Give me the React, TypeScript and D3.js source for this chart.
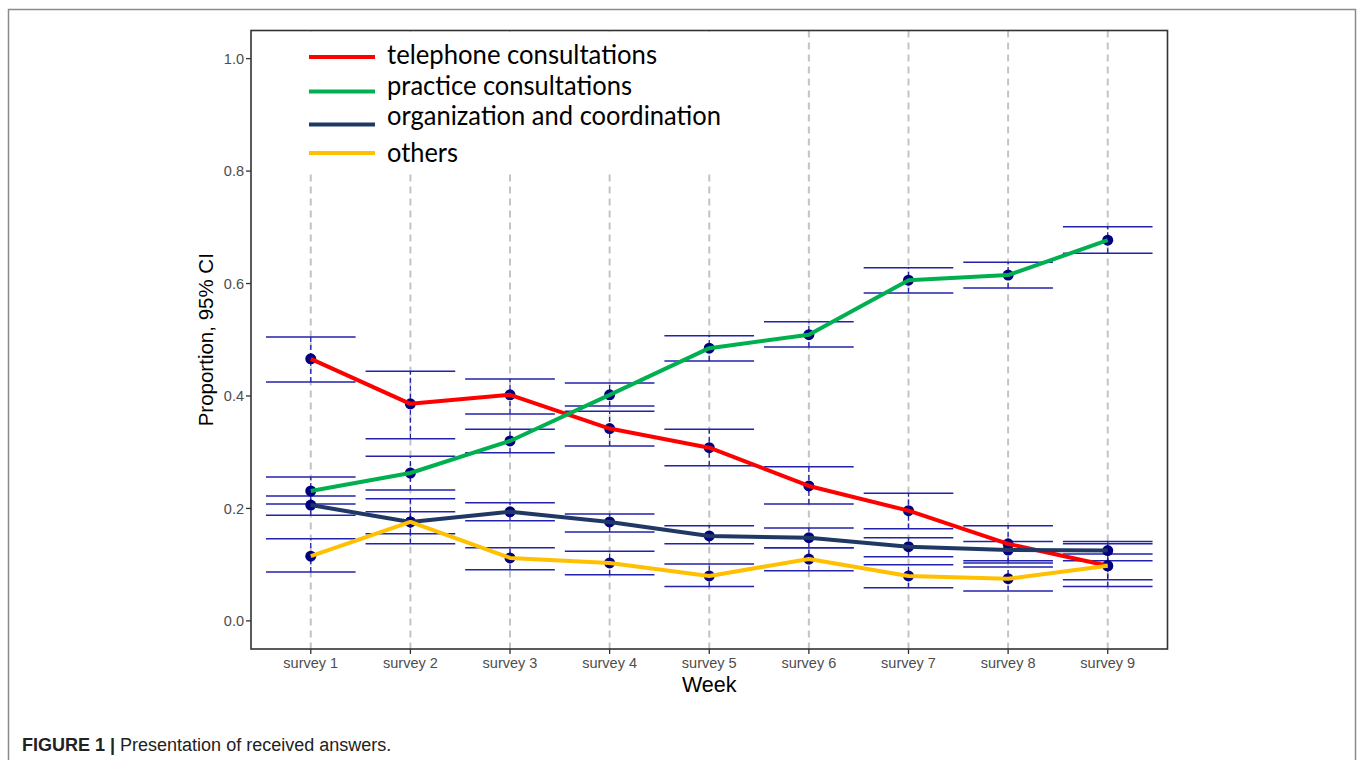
import React from "react";
import * as d3 from "d3";

const surveys = ["survey 1", "survey 2", "survey 3", "survey 4", "survey 5", "survey 6", "survey 7", "survey 8", "survey 9"];
const yTicks = [0.0, 0.2, 0.4, 0.6, 0.8, 1.0];

const seriesNames = ["telephone consultations", "practice consultations", "organization and coordination", "others"];
const seriesColors = ["#ff0000", "#00b050", "#203864", "#ffc000"];

const telephoneEst = [0.466, 0.386, 0.402, 0.342, 0.308, 0.240, 0.196, 0.137, 0.098];
const telephoneLo = [0.425, 0.324, 0.368, 0.311, 0.276, 0.208, 0.164, 0.107, 0.073];
const telephoneHi = [0.505, 0.444, 0.430, 0.373, 0.341, 0.274, 0.227, 0.169, 0.137];

const practiceEst = [0.231, 0.263, 0.320, 0.402, 0.485, 0.509, 0.606, 0.615, 0.677];
const practiceLo = [0.208, 0.233, 0.299, 0.382, 0.462, 0.487, 0.583, 0.592, 0.654];
const practiceHi = [0.256, 0.293, 0.341, 0.423, 0.507, 0.532, 0.628, 0.638, 0.701];

const organizationEst = [0.206, 0.176, 0.194, 0.176, 0.151, 0.148, 0.132, 0.126, 0.125];
const organizationLo = [0.188, 0.155, 0.178, 0.158, 0.137, 0.130, 0.114, 0.103, 0.107];
const organizationHi = [0.222, 0.194, 0.210, 0.190, 0.169, 0.165, 0.148, 0.141, 0.141];

const othersEst = [0.115, 0.176, 0.112, 0.103, 0.080, 0.110, 0.080, 0.075, 0.098];
const othersLo = [0.087, 0.137, 0.091, 0.082, 0.061, 0.089, 0.059, 0.053, 0.061];
const othersHi = [0.146, 0.217, 0.130, 0.124, 0.101, 0.130, 0.100, 0.096, 0.119];

const estimates = [telephoneEst, practiceEst, organizationEst, othersEst];
const lowers = [telephoneLo, practiceLo, organizationLo, othersLo];
const uppers = [telephoneHi, practiceHi, organizationHi, othersHi];

export default function App() {
  const W = 1358, H = 760;
  const pL = 251, pR = 1167.5, pT = 30.5, pB = 649;
  const x = d3.scalePoint<string>().domain(surveys).range([pL, pR]).padding(0.6);
  const y = d3.scaleLinear().domain([-0.05, 1.05]).range([pB, pT]);
  const step = x.step();
  const half = step * 0.45;
  const line = d3.line<number>().x((_, i) => x(surveys[i])!).y((v) => y(v));

  const legendLineY = [57, 91.5, 124.5, 153];
  const legendTextY = [64, 95, 125, 162];
  const legendWidths = [270, 245, 334, 71];

  const ebColor = "#2222aa";
  const axisFont = "'Liberation Sans', Arial, sans-serif";

  return (
    <svg width={W} height={H} style={{ position: "absolute", left: 0, top: 0 }}>
      <rect x={0} y={0} width={W} height={H} fill="#fff" />
      <rect x={8.5} y={9.5} width={1347} height={H + 20} fill="none" stroke="#8a8a8a" strokeWidth={1.5} />

      {/* grey dashed guide lines */}
      {surveys.map((s) => (
        <line key={"g" + s} x1={x(s)} x2={x(s)} y1={pT} y2={pB} stroke="#c4c4c4" strokeWidth={2} strokeDasharray="7,5" />
      ))}

      {/* error bars */}
      {estimates.map((est, k) =>
        est.map((_, i) => {
          const cx = x(surveys[i])!;
          return (
            <g key={`eb${k}-${i}`}>
              <line x1={cx} x2={cx} y1={y(lowers[k][i])} y2={y(uppers[k][i])} stroke={ebColor} strokeWidth={1.3} strokeDasharray="5,3" />
              <line x1={cx - half} x2={cx + half} y1={y(lowers[k][i])} y2={y(lowers[k][i])} stroke={ebColor} strokeWidth={1.5} />
              <line x1={cx - half} x2={cx + half} y1={y(uppers[k][i])} y2={y(uppers[k][i])} stroke={ebColor} strokeWidth={1.5} />
            </g>
          );
        })
      )}

      {/* points */}
      {estimates.map((est, k) =>
        est.map((v, i) => (
          <circle key={`p${k}-${i}`} cx={x(surveys[i])} cy={y(v)} r={5.5} fill="#000080" />
        ))
      )}

      {/* lines */}
      {estimates.map((est, k) => (
        <path key={"l" + k} d={line(est)!} fill="none" stroke={seriesColors[k]} strokeWidth={4} strokeLinejoin="round" />
      ))}

      {/* legend */}
      <rect x={292} y={pT + 1} width={448} height={141} fill="#fff" />
      {seriesNames.map((name, k) => (
        <g key={"lg" + k}>
          <line x1={309} x2={375} y1={legendLineY[k]} y2={legendLineY[k]} stroke={seriesColors[k]} strokeWidth={4} />
          <text x={387} y={legendTextY[k]} fontFamily="Lato, 'Open Sans', sans-serif" fontSize={27} fill="#000"
            textLength={legendWidths[k]} lengthAdjust="spacingAndGlyphs">{name}</text>
        </g>
      ))}

      {/* panel border */}
      <rect x={pL} y={pT} width={pR - pL} height={pB - pT} fill="none" stroke="#333" strokeWidth={1.6} />

      {/* y axis */}
      {yTicks.map((t) => (
        <g key={"yt" + t}>
          <line x1={pL - 5} x2={pL} y1={y(t)} y2={y(t)} stroke="#333" strokeWidth={1.3} />
          <text x={pL - 7} y={y(t)} dy="0.35em" textAnchor="end" fontFamily={axisFont} fontSize={14.5} fill="#4d4d4d">{t.toFixed(1)}</text>
        </g>
      ))}

      {/* x axis */}
      {surveys.map((s) => (
        <g key={"xt" + s}>
          <line x1={x(s)} x2={x(s)} y1={pB} y2={pB + 5} stroke="#333" strokeWidth={1.3} />
          <text x={x(s)} y={pB + 19} textAnchor="middle" fontFamily={axisFont} fontSize={14.5} fill="#4d4d4d">{s}</text>
        </g>
      ))}

      <text x={(pL + pR) / 2} y={692} textAnchor="middle" fontFamily={axisFont} fontSize={21.5} fill="#000">Week</text>
      <text transform={`translate(213, ${(pT + pB) / 2}) rotate(-90)`} textAnchor="middle" fontFamily={axisFont} fontSize={20.5} fill="#000">Proportion, 95% CI</text>

      <text x={22} y={751} fontFamily={axisFont} fontSize={18} fill="#222">
        <tspan fontWeight="bold">FIGURE 1 | </tspan>
        <tspan>Presentation of received answers.</tspan>
      </text>
    </svg>
  );
}
